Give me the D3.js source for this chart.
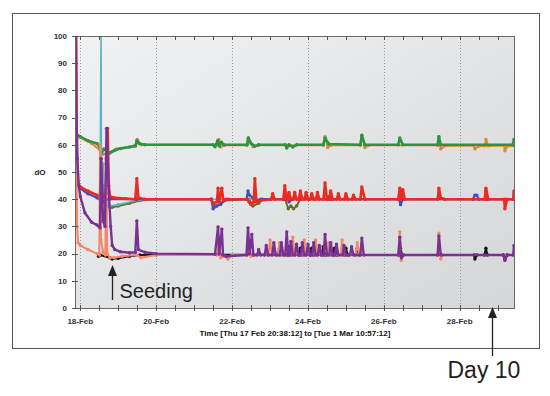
<!DOCTYPE html>
<html>
<head>
<meta charset="utf-8">
<script src="https://cdn.jsdelivr.net/npm/d3@7"></script>
<style>
  body { margin: 0; background: #fff; }
  svg { display: block; font-family: "Liberation Sans", Arial, sans-serif; }
</style>
</head>
<body>
<div class="chart"></div>
<script>
// data: [day since 18-Feb 00:00, dO]
const green60 = [[-0.07,63.5],[0,63],[0.2,61.5],[0.44,60.5],[0.52,59],[0.56,57],[0.62,58.5],[0.7,57.5],[0.78,57],[0.84,57.5],[0.91,58],[1.05,58.6],[1.3,59.2],[1.45,59.6],[1.49,61.5],[1.55,60.5],[1.7,60],[3.5,60],[3.55,59.3],[3.62,61.5],[3.66,59.6],[3.72,61],[3.78,60],[4.4,60],[4.43,62.5],[4.5,60.5],[4.6,59.5],[4.7,60],[5.4,60],[5.44,58.8],[5.5,60],[5.6,59.2],[5.7,60],[6.4,60],[6.45,62.5],[6.55,60.3],[7.38,60],[7.42,63.5],[7.5,60],[8.38,60],[8.42,62.5],[8.5,60],[9.42,60],[9.45,63],[9.5,60],[11.4,60],[11.43,62],[11.45,60.5]];
const orange60 = [[-0.07,63],[0.3,60.5],[0.52,58],[0.6,56.5],[0.75,57],[0.95,58.5],[1.4,59.5],[1.46,59.6],[1.5,62],[1.6,60],[3.6,60],[3.65,62],[3.7,59.2],[3.8,59.8],[4.38,59.8],[4.42,62.5],[4.55,59.3],[4.7,59.8],[6.4,59.8],[6.45,63],[6.52,59],[6.6,59.8],[7.38,59.8],[7.42,63.5],[7.5,59],[7.6,59.8],[9.42,59.8],[9.45,63],[9.5,58.5],[9.6,59.6],[10.37,59.7],[10.4,58.5],[10.5,59.5],[10.66,59.6],[10.69,62],[10.75,59.6],[11.17,59.7],[11.19,57.8],[11.25,59.5],[11.45,59.6]];
const olive40 = [[0.6,45],[0.66,38],[0.78,37],[0.84,37],[1.0,37.5],[1.3,38.5],[1.57,39.5],[2.0,40],[3.45,40],[3.55,37.5],[3.7,38],[3.8,39.5],[4.45,40],[4.55,37.5],[4.7,38.5],[4.8,40],[5.4,40],[5.48,36.5],[5.55,37.5],[5.62,36.5],[5.7,37.5],[5.8,40],[11.45,40]];
const cyan40 = [[0.45,40.5],[0.52,41],[0.545,100],[0.56,42],[0.6,53],[0.64,40],[0.78,37.5],[1.0,38],[1.57,39.8],[2,40],[11.45,40]];
const blue40 = [[-0.07,45],[0,44],[0.2,42],[0.44,40.5],[0.52,40],[0.6,39],[0.75,40],[1.49,40],[3.45,40],[3.5,36.5],[3.6,37.5],[3.7,38.5],[3.8,39.5],[3.9,40],[4.38,40],[4.42,43],[4.46,41.5],[4.55,40.5],[4.65,39.5],[4.75,40],[5.4,40],[5.45,41.5],[5.5,39],[5.6,40],[6.5,40],[6.55,41],[6.6,40],[8.4,40],[8.44,38],[8.5,40],[10.35,40],[10.4,41.5],[10.45,41.5],[10.5,40],[10.66,40],[10.69,43],[10.72,40],[11.41,40],[11.43,42],[11.45,40]];
const red40 = [[-0.11,100],[-0.095,62],[-0.07,46],[0,44.5],[0.2,43],[0.44,41.5],[0.52,41],[0.545,55],[0.57,42],[0.62,40.5],[0.68,42],[0.72,66],[0.75,45],[0.78,41],[0.91,40.5],[1.2,40.2],[1.45,40],[1.49,47.5],[1.53,40.5],[1.7,40],[3.45,40],[3.5,38.5],[3.6,39],[3.63,44],[3.66,39],[3.73,44],[3.77,39.5],[3.85,40],[4.4,40],[4.45,39],[4.5,38],[4.57,39],[4.6,47.5],[4.64,39],[4.75,39.5],[5.03,40],[5.07,42],[5.12,40],[5.35,40],[5.39,45],[5.43,40],[5.47,40],[5.5,42.5],[5.55,40],[5.61,40],[5.65,42.5],[5.7,40],[5.76,40],[5.8,43],[5.85,40],[5.91,40],[5.95,42.5],[6.0,40],[6.06,40],[6.1,42],[6.15,40],[6.21,40],[6.25,42.5],[6.3,40],[6.41,40],[6.45,46],[6.5,40],[6.56,40],[6.6,43],[6.65,40],[6.76,40],[6.8,42],[6.85,40],[6.96,40],[7.0,42],[7.05,40],[7.16,40],[7.2,41.5],[7.25,40],[7.38,40],[7.42,44.5],[7.5,40],[8.38,40],[8.42,44],[8.46,40],[8.5,43.5],[8.55,40],[9.42,40],[9.45,44],[9.5,40.5],[9.6,40],[10.66,40],[10.69,44],[10.75,40],[11.17,40],[11.19,36.5],[11.25,40],[11.41,40],[11.43,43],[11.45,40]];
const black20 = [[0.48,19],[0.52,19.5],[0.78,18.5],[0.84,18],[1.0,18.3],[1.3,19],[1.57,19.5],[2,19.6],[5.2,19.6],[5.25,22],[5.3,19.6],[5.46,19.5],[5.5,22.5],[5.55,19.5],[5.76,19.5],[5.8,22],[5.85,19.5],[6.06,19.5],[6.1,22],[6.15,19.5],[6.36,19.5],[6.4,22.5],[6.45,19.5],[6.66,19.5],[6.7,22],[6.75,19.5],[6.96,19.5],[7.0,22],[7.05,19.5],[7.26,19.5],[7.3,22],[7.35,19.5],[8.4,19.5],[8.44,22],[8.48,19.5],[10.38,19.5],[10.4,18],[10.45,19.5],[10.65,19.5],[10.69,22],[10.73,19.5],[11.15,19.5],[11.19,18],[11.25,19.5],[11.45,19.5]];
const salmon20 = [[-0.12,100],[-0.1,60],[-0.085,30],[-0.06,24],[0,23],[0.2,21.5],[0.44,20],[0.5,19.5],[0.52,60],[0.545,25],[0.6,20.5],[0.66,19.5],[0.68,55],[0.71,20],[0.78,18.5],[0.9,18.5],[1.1,19],[1.49,19.5],[1.6,18.5],[2.0,19.5],[3.6,19.5],[3.65,26],[3.7,18.5],[3.8,19],[3.89,18],[4.0,19.5],[4.4,19.5],[4.44,25],[4.5,19],[4.6,19.5],[4.96,19.5],[5.0,25],[5.05,19.5],[5.21,19.5],[5.25,24],[5.3,19.5],[5.56,19.5],[5.6,26],[5.65,19.5],[5.86,19.5],[5.9,25],[5.95,19.5],[6.16,19.5],[6.2,25],[6.25,19.5],[6.51,19.5],[6.55,24],[6.6,19.5],[6.86,19.5],[6.9,25],[6.95,19.5],[7.26,19.5],[7.3,24],[7.35,19.5],[8.38,19.5],[8.42,28],[8.46,17.5],[8.52,19.5],[9.41,19.5],[9.45,27.5],[9.5,18],[9.55,19.5],[11.45,19.5]];
const purple20 = [[-0.12,100],[-0.1,70],[-0.08,55],[-0.04,45],[0,41],[0.12,35],[0.3,31.5],[0.44,30.5],[0.52,29.5],[0.545,55],[0.57,45],[0.6,32],[0.65,30],[0.69,66],[0.72,55],[0.76,40],[0.8,30],[0.84,23],[0.91,21.5],[1.05,20.7],[1.3,20.3],[1.45,20.5],[1.49,32],[1.53,21.5],[1.7,20.5],[2.0,20],[3.55,19.8],[3.63,29.8],[3.66,20],[3.73,29],[3.76,19.5],[3.85,19],[4.38,19.5],[4.42,29.4],[4.46,20],[4.52,27],[4.56,19.5],[4.66,19.5],[4.7,21.5],[4.75,19.5],[4.86,19.5],[4.9,23],[4.95,19.5],[5.06,19.5],[5.1,24],[5.15,19.5],[5.26,19.5],[5.3,24],[5.35,19.5],[5.4,19.5],[5.44,28],[5.48,19.5],[5.51,19.5],[5.55,24.5],[5.6,19.5],[5.66,19.5],[5.7,23.5],[5.75,19.5],[5.81,19.5],[5.85,24],[5.9,19.5],[5.96,19.5],[6.0,23.5],[6.05,19.5],[6.11,19.5],[6.15,24],[6.2,19.5],[6.26,19.5],[6.3,23],[6.35,19.5],[6.41,19.5],[6.45,27],[6.5,19.5],[6.56,19.5],[6.6,24],[6.65,19.5],[6.71,19.5],[6.75,23.5],[6.8,19.5],[6.91,19.5],[6.95,23],[7.0,19.5],[7.11,19.5],[7.15,22.5],[7.2,19.5],[7.38,19.5],[7.42,25.7],[7.47,19.5],[8.38,19.5],[8.42,26],[8.46,18.5],[8.52,19.5],[9.42,19.5],[9.45,26.5],[9.5,19.5],[11.15,19.5],[11.19,17.5],[11.25,19.5],[11.41,19.5],[11.43,23],[11.45,20]];

const yTicks = [0, 10, 20, 30, 40, 50, 60, 70, 80, 90, 100];
const xTickDays = [0, 2, 4, 6, 8, 10];   // 18-Feb .. 28-Feb
const seedingDay = 0.84;
const dayTen = seedingDay + 10;

// draw order: under-layers first
const series = [
  {name: "orange60", color: "#d98a32", w: 2, data: orange60},
  {name: "green60",  color: "#2e9443", w: 2.6, data: green60},
  {name: "olive40",  color: "#6d6a2a", w: 2, data: olive40},
  {name: "cyan40",   color: "#5ab4c2", w: 1.6, data: cyan40},
  {name: "blue40",   color: "#3c4fc2", w: 2.2, data: blue40},
  {name: "red40",    color: "#ec2a22", w: 2.6, data: red40},
  {name: "black20",  color: "#141414", w: 2, data: black20},
  {name: "salmon20", color: "#f2876a", w: 2, data: salmon20},
  {name: "purple20", color: "#7a3194", w: 2.4, data: purple20}
];

const W = 550, H = 396;
const pLeft = 75, pRight = 515, pTop = 36, pBottom = 308;

const t0 = new Date(2011, 1, 18);
const toDate = d => new Date(+t0 + d * 864e5);
const start = new Date(2011, 1, 17, 20, 38, 12);
const end = new Date(2011, 2, 1, 10, 57, 12);

const x = d3.scaleTime().domain([start, end]).range([pLeft, pRight]);
const y = d3.scaleLinear().domain([0, 100]).range([pBottom, pTop]);

const svg = d3.select(".chart").append("svg")
    .attr("width", W)
    .attr("height", H);

const defs = svg.append("defs");
const grad = defs.append("linearGradient").attr("id", "bg")
    .attr("x1", 0).attr("y1", 0).attr("x2", 1).attr("y2", 1);
grad.append("stop").attr("offset", "0%").attr("stop-color", "#f1f2f3");
grad.append("stop").attr("offset", "100%").attr("stop-color", "#d4d6d8");
defs.append("clipPath").attr("id", "clip").append("rect")
    .attr("x", pLeft).attr("y", pTop).attr("width", pRight - pLeft).attr("height", pBottom - pTop);

// outer frame
svg.append("rect")
    .attr("x", 12.5).attr("y", 13.5).attr("width", 527).attr("height", 335)
    .attr("fill", "#fff").attr("stroke", "#555");

// plot area
svg.append("rect")
    .attr("x", pLeft).attr("y", pTop).attr("width", pRight - pLeft).attr("height", pBottom - pTop)
    .attr("fill", "url(#bg)");

// vertical dotted grid
svg.append("g")
    .selectAll("line")
    .data(xTickDays)
    .join("line")
    .attr("x1", d => Math.round(x(toDate(d))) + 0.5)
    .attr("x2", d => Math.round(x(toDate(d))) + 0.5)
    .attr("y1", pTop).attr("y2", pBottom)
    .attr("stroke", "#9a9a9a")
    .attr("stroke-dasharray", "1,2");

// series
const line = d3.line()
    .x(d => x(toDate(d[0])))
    .y(d => y(d[1]));

const plot = svg.append("g").attr("clip-path", "url(#clip)");

series.forEach(s => {
  plot.append("path")
      .datum(s.data)
      .attr("fill", "none")
      .attr("stroke", s.color)
      .attr("stroke-width", s.w)
      .attr("stroke-linejoin", "round")
      .attr("d", line);
  plot.append("g")
      .selectAll("circle")
      .data(s.data)
      .join("circle")
      .attr("cx", d => x(toDate(d[0])))
      .attr("cy", d => y(d[1]))
      .attr("r", 1.7)
      .attr("fill", s.color);
});

// plot border
svg.append("rect")
    .attr("x", pLeft + 0.5).attr("y", pTop + 0.5).attr("width", pRight - pLeft - 1).attr("height", pBottom - pTop)
    .attr("fill", "none").attr("stroke", "#6a6a6a");

// x axis ticks (major + minor every 12h), crossing bottom, inward at top
const minor = d3.timeHour.every(12).range(start, end);
const majorDates = xTickDays.map(toDate);
const tickG = svg.append("g").attr("stroke", "#555");
tickG.selectAll(".xb").data(minor).join("line")
    .attr("x1", d => Math.round(x(d)) + 0.5).attr("x2", d => Math.round(x(d)) + 0.5)
    .attr("y1", pBottom - 3).attr("y2", pBottom + 3);
tickG.selectAll(".xt").data(minor).join("line")
    .attr("x1", d => Math.round(x(d)) + 0.5).attr("x2", d => Math.round(x(d)) + 0.5)
    .attr("y1", pTop).attr("y2", pTop + 4);
tickG.selectAll(".yl").data(yTicks).join("line")
    .attr("x1", pLeft - 3).attr("x2", pLeft + 3)
    .attr("y1", d => Math.round(y(d)) + 0.5).attr("y2", d => Math.round(y(d)) + 0.5);

svg.append("g")
    .selectAll("text")
    .data(majorDates)
    .join("text")
    .attr("x", d => x(d))
    .attr("y", pBottom + 16)
    .attr("text-anchor", "middle")
    .attr("font-size", 8)
    .attr("font-weight", "bold")
    .attr("fill", "#333")
    .text(d3.timeFormat("%d-%b"));

svg.append("g")
    .selectAll("text")
    .data(yTicks)
    .join("text")
    .attr("x", pLeft - 8)
    .attr("y", d => y(d))
    .attr("dy", "0.35em")
    .attr("text-anchor", "end")
    .attr("font-size", 8)
    .attr("font-weight", "bold")
    .attr("fill", "#333")
    .text(d => d);

svg.append("text")
    .attr("x", 40).attr("y", y(50)).attr("dy", "0.35em")
    .attr("text-anchor", "middle")
    .attr("font-size", 8).attr("font-weight", "bold").attr("fill", "#222")
    .text("dO");

svg.append("text")
    .attr("x", (pLeft + pRight) / 2).attr("y", 336)
    .attr("text-anchor", "middle")
    .attr("font-size", 8).attr("font-weight", "bold").attr("fill", "#111")
    .text("Time [Thu 17 Feb 20:38:12] to [Tue 1 Mar 10:57:12]");

// annotations
function arrow(xp, yTip, yEnd) {
  svg.append("line")
      .attr("x1", xp).attr("x2", xp).attr("y1", yTip + 8).attr("y2", yEnd)
      .attr("stroke", "#222").attr("stroke-width", 1.3);
  svg.append("path")
      .attr("d", `M${xp},${yTip} L${xp - 4.5},${yTip + 11} L${xp + 4.5},${yTip + 11} Z`)
      .attr("fill", "#222");
}

const xs = Math.round(x(toDate(seedingDay))) + 0.5;
arrow(xs, 265, 300);
svg.append("text")
    .attr("x", xs + 7).attr("y", 298)
    .attr("font-size", 20).attr("fill", "#222")
    .text("Seeding");

const xd = Math.round(x(toDate(dayTen))) + 0.5;
arrow(xd, 307, 356);
svg.append("text")
    .attr("x", xd - 45).attr("y", 378)
    .attr("font-size", 23).attr("fill", "#222")
    .text("Day 10");
</script>
</body>
</html>
